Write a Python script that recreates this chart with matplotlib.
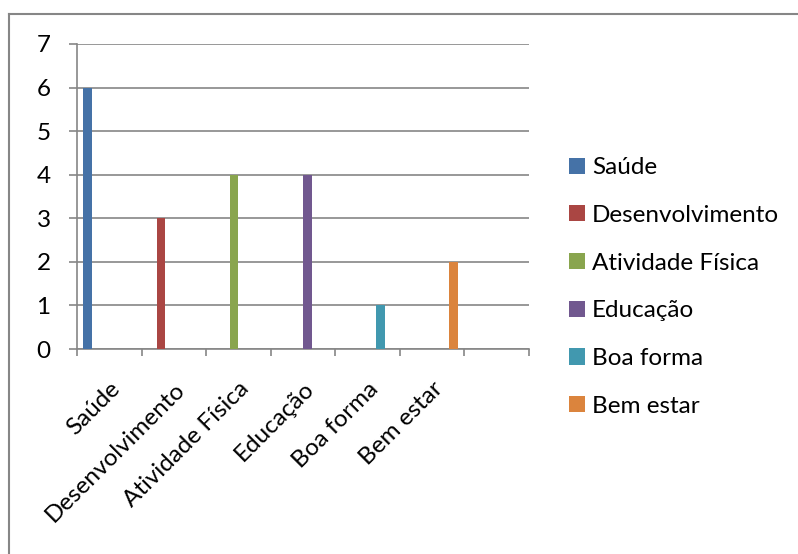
import numpy as np
import matplotlib
matplotlib.use("Agg")
import matplotlib.pyplot as plt
import matplotlib.transforms as mtransforms
from matplotlib.lines import Line2D

plt.rcParams['font.family'] = ['Lato', 'DejaVu Sans']

# categories on the x axis (the last slot is empty in the original sheet)
categories = ["Saúde", "Desenvolvimento", "Atividade Física", "Educação", "Boa forma", "Bem estar", ""]
series = ["Saúde", "Desenvolvimento", "Atividade Física", "Educação", "Boa forma", "Bem estar"]
# each series only has a value in its own category
values = [6, 3, 4, 4, 1, 2]
colors = ["#4572A7", "#AA4643", "#89A54E", "#71588F", "#4198AF", "#DB843D"]
yticks = [0, 1, 2, 3, 4, 5, 6, 7]

FS = 17.5

fig = plt.figure(figsize=(7.98, 5.54), dpi=100)
ax = fig.add_axes([77 / 798, 1 - 349 / 554, (529 - 77) / 798, (349 - 44) / 554])

n_slots = len(categories)
n_series = len(series)
w = 1 / (n_series + 1.5)   # Excel default gap width 150%
x = np.arange(n_slots)

for i, (name, val, c) in enumerate(zip(series, values, colors)):
    heights = np.zeros(n_slots)
    heights[i] = val
    offs = -0.5 + 0.75 * w + (i + 0.5) * w
    ax.bar(x + offs, heights, width=w, color=c, label=name, zorder=3)

ax.set_xlim(-0.5, n_slots - 0.5)
ax.set_ylim(0, 7)
ax.set_yticks(yticks)
ax.set_yticklabels([str(t) for t in yticks], fontsize=FS)
ax.yaxis.grid(True, color="#868686", linewidth=1.2, zorder=0)
ax.set_axisbelow(True)

ax.set_xticks(np.arange(n_slots + 1) - 0.5, minor=False)
ax.set_xticklabels([])
ax.set_xticks(x, minor=True)
ax.set_xticklabels(categories, minor=True, rotation=45, ha="right",
                   rotation_mode="anchor", fontsize=FS)
shift = mtransforms.ScaledTranslation(-6 / 100, 0, fig.dpi_scale_trans)
for lbl in ax.get_xticklabels(minor=True):
    lbl.set_transform(lbl.get_transform() + shift)
ax.tick_params(axis="x", which="major", length=5, color="#868686", width=1.2)
ax.tick_params(axis="x", which="minor", length=0, pad=21)
ax.tick_params(axis="y", length=6, color="#868686", width=1.2, pad=13)

for s in ["top", "right"]:
    ax.spines[s].set_visible(False)
for s in ["left", "bottom"]:
    ax.spines[s].set_color("#868686")
    ax.spines[s].set_linewidth(1.2)

ax.legend(loc="center left", bbox_to_anchor=(557 / 798, 1 - 287 / 554),
          bbox_transform=fig.transFigure, frameon=False, fontsize=FS,
          handlelength=0.65, handleheight=0.65, handletextpad=0.3,
          labelspacing=1.1, borderpad=0)

# chart area border (only top and left visible in the crop)
fig.add_artist(Line2D([9 / 798, 1], [1 - 14 / 554, 1 - 14 / 554], color="#868686", linewidth=1.5))
fig.add_artist(Line2D([9 / 798, 9 / 798], [0, 1 - 14 / 554], color="#868686", linewidth=1.5))

fig.savefig("out.png", dpi=100)
